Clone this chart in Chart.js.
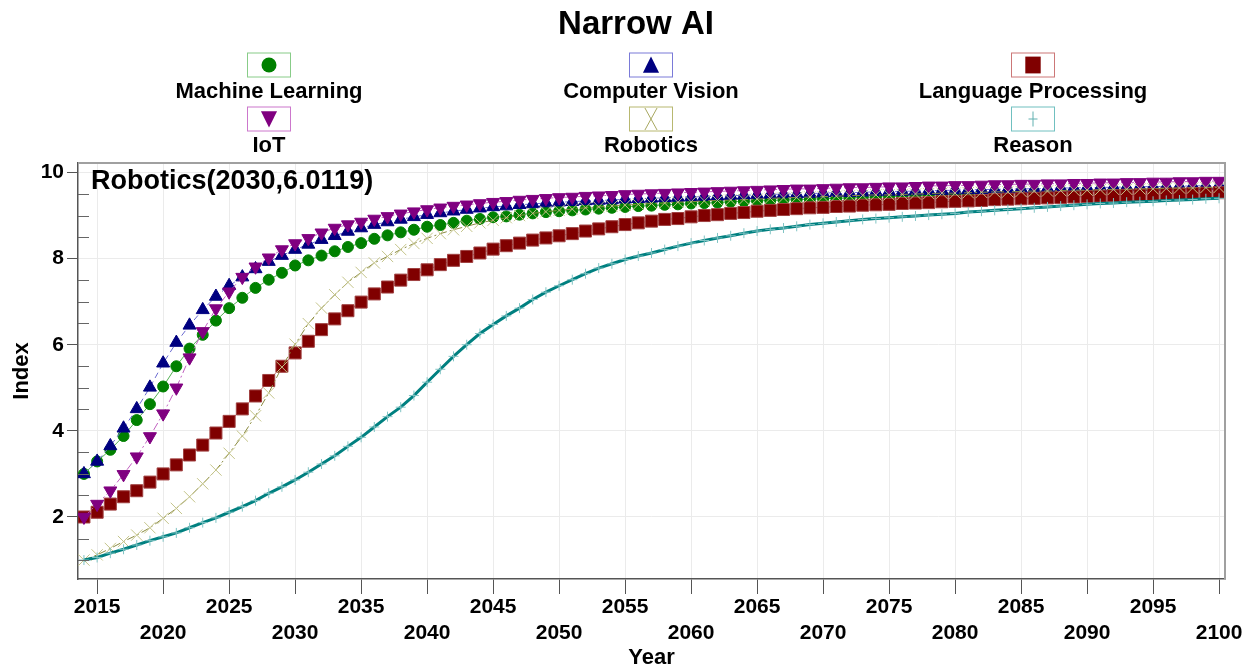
<!DOCTYPE html>
<html><head><meta charset="utf-8">
<script src="https://cdn.jsdelivr.net/npm/chart.js@4.4.1/dist/chart.umd.min.js"></script>
<style>html,body{margin:0;padding:0;background:#fff;}canvas{display:block;}</style>
</head><body>
<canvas id="c" width="1251" height="670"></canvas>
<script>
const chartTitle = 'Narrow AI';
const xTitle = 'Year';
const yTitle = 'Index';
const annotationText = 'Robotics(2030,6.0119)';

const years = [2014,2015,2016,2017,2018,2019,2020,2021,2022,2023,
2024,2025,2026,2027,2028,2029,2030,2031,2032,2033,
2034,2035,2036,2037,2038,2039,2040,2041,2042,2043,
2044,2045,2046,2047,2048,2049,2050,2051,2052,2053,
2054,2055,2056,2057,2058,2059,2060,2061,2062,2063,
2064,2065,2066,2067,2068,2069,2070,2071,2072,2073,
2074,2075,2076,2077,2078,2079,2080,2081,2082,2083,
2084,2085,2086,2087,2088,2089,2090,2091,2092,2093,
2094,2095,2096,2097,2098,2099,2100];

const machineLearning = [3.00,3.29,3.56,3.88,4.25,4.62,5.03,5.50,5.91,6.23,
6.56,6.85,7.09,7.32,7.51,7.67,7.84,7.96,8.07,8.17,
8.27,8.36,8.46,8.54,8.61,8.67,8.74,8.78,8.83,8.88,
8.92,8.96,8.98,9.02,9.05,9.08,9.10,9.12,9.14,9.16,
9.18,9.20,9.22,9.23,9.25,9.26,9.28,9.29,9.30,9.32,
9.33,9.34,9.35,9.36,9.37,9.38,9.39,9.40,9.41,9.42,
9.43,9.44,9.45,9.46,9.47,9.48,9.48,9.49,9.50,9.51,
9.52,9.52,9.53,9.54,9.54,9.55,9.56,9.56,9.57,9.58,
9.58,9.59,9.59,9.60,9.60,9.61,9.62];

const computerVision = [3.00,3.29,3.65,4.06,4.51,5.01,5.57,6.05,6.45,6.81,
7.12,7.37,7.57,7.76,7.93,8.07,8.21,8.33,8.44,8.53,
8.63,8.71,8.79,8.85,8.91,8.97,9.02,9.06,9.10,9.14,
9.17,9.20,9.22,9.25,9.27,9.29,9.31,9.32,9.34,9.35,
9.36,9.38,9.39,9.40,9.41,9.42,9.43,9.44,9.45,9.46,
9.47,9.48,9.49,9.50,9.50,9.51,9.52,9.53,9.53,9.54,
9.55,9.56,9.56,9.57,9.58,9.58,9.59,9.60,9.60,9.61,
9.61,9.62,9.62,9.63,9.64,9.64,9.65,9.65,9.66,9.66,
9.67,9.67,9.68,9.68,9.69,9.69,9.70];

const languageProcessing = [2.00,2.11,2.30,2.47,2.61,2.81,3.00,3.21,3.44,3.67,
3.95,4.22,4.51,4.81,5.17,5.50,5.81,6.08,6.35,6.60,
6.79,6.99,7.18,7.34,7.50,7.63,7.74,7.86,7.96,8.05,
8.13,8.22,8.30,8.36,8.43,8.48,8.53,8.58,8.64,8.69,
8.74,8.79,8.83,8.87,8.91,8.93,8.97,9.00,9.02,9.05,
9.07,9.10,9.12,9.14,9.16,9.18,9.19,9.21,9.22,9.24,
9.25,9.26,9.28,9.29,9.30,9.32,9.33,9.34,9.35,9.37,
9.38,9.39,9.40,9.41,9.42,9.43,9.44,9.45,9.46,9.47,
9.48,9.49,9.50,9.50,9.51,9.52,9.53];

const iot = [2.00,2.30,2.61,2.99,3.40,3.87,4.40,5.00,5.70,6.31,
6.84,7.23,7.57,7.81,8.02,8.21,8.35,8.47,8.60,8.71,
8.79,8.85,8.92,8.98,9.04,9.09,9.14,9.18,9.22,9.25,
9.28,9.31,9.33,9.36,9.38,9.40,9.42,9.43,9.45,9.46,
9.47,9.49,9.50,9.51,9.52,9.53,9.54,9.55,9.56,9.57,
9.58,9.59,9.60,9.61,9.62,9.62,9.63,9.64,9.65,9.65,
9.66,9.67,9.67,9.68,9.69,9.69,9.70,9.70,9.71,9.72,
9.72,9.73,9.73,9.74,9.74,9.75,9.75,9.76,9.76,9.77,
9.77,9.78,9.78,9.79,9.79,9.80,9.80];

const robotics = [1.00,1.12,1.27,1.43,1.58,1.75,1.97,2.20,2.47,2.77,
3.09,3.48,3.88,4.35,4.88,5.48,6.0119,6.49,6.85,7.16,
7.45,7.68,7.90,8.05,8.21,8.35,8.47,8.58,8.67,8.75,
8.83,8.89,8.95,9.00,9.05,9.09,9.12,9.15,9.18,9.20,
9.22,9.24,9.26,9.28,9.29,9.31,9.32,9.34,9.35,9.36,
9.37,9.38,9.40,9.41,9.42,9.43,9.44,9.45,9.46,9.47,
9.48,9.48,9.49,9.50,9.51,9.52,9.52,9.53,9.54,9.55,
9.55,9.56,9.57,9.57,9.58,9.59,9.59,9.60,9.61,9.61,
9.62,9.62,9.63,9.64,9.64,9.65,9.65];

const reason = [1.00,1.06,1.16,1.25,1.35,1.45,1.54,1.63,1.75,1.87,
1.98,2.11,2.24,2.38,2.55,2.70,2.86,3.04,3.23,3.42,
3.64,3.85,4.09,4.33,4.55,4.82,5.13,5.43,5.73,6.00,
6.26,6.47,6.67,6.85,7.05,7.22,7.37,7.51,7.65,7.78,
7.88,7.98,8.06,8.13,8.21,8.29,8.36,8.42,8.48,8.53,
8.59,8.64,8.68,8.71,8.75,8.79,8.82,8.85,8.88,8.91,
8.93,8.95,8.97,8.99,9.01,9.03,9.05,9.08,9.10,9.12,
9.14,9.16,9.18,9.20,9.22,9.24,9.26,9.28,9.29,9.31,
9.32,9.33,9.35,9.36,9.37,9.39,9.40];

const seriesNames = ['Machine Learning','Computer Vision','Language Processing','IoT','Robotics','Reason'];
const xTickYears = [2015,2020,2025,2030,2035,2040,2045,2050,2055,2060,2065,2070,2075,2080,2085,2090,2095,2100];
const yTickValues = [1,1.5,2,2.5,3,3.5,4,4.5,5,5.5,6,6.5,7,7.5,8,8.5,9,9.5,10];
const yTickLabels = [2,4,6,8,10];

const FONT = '"Liberation Sans", Arial, sans-serif';
const pts = arr => years.map((y, i) => ({x: y, y: arr[i]}));

const styles = [
  {data: machineLearning, line:'#55b055', fill:'#008000', stroke:'#008000', shape:'circle', r:5.5, dash:[], box:'#88cc88', width:1},
  {data: computerVision, line:'#6a6ad0', fill:'#000080', stroke:'#000080', shape:'triangle', r:7.5, dash:[6,4], box:'#7a7ad8', width:1},
  {data: languageProcessing, line:'#c07070', fill:'#800000', stroke:'#a04040', shape:'rect', r:8.5, dash:[], box:'#cc7777', width:1},
  {data: iot, line:'#c060c0', fill:'#800080', stroke:'#800080', shape:'triangle', rot:180, r:7.5, dash:[8,3,2,3], box:'#cc77cc', width:1},
  {data: robotics, line:'#8a8a40', fill:'rgba(0,0,0,0)', stroke:'#c4c48a', shape:'crossRot', r:8, dash:[8,3,2,3], box:'#b8b870', width:1},
  {data: reason, line:'#008080', fill:'rgba(0,0,0,0)', stroke:'#80c4c4', shape:'cross', r:5, dash:[], box:'#70c0c0', width:3}
];

const datasets = styles.map((s, i) => ({
  label: seriesNames[i],
  data: pts(s.data),
  borderColor: s.line,
  borderWidth: s.width,
  borderDash: s.dash,
  pointStyle: s.shape,
  pointRotation: s.rot || 0,
  pointRadius: s.r,
  pointBackgroundColor: s.fill,
  pointBorderColor: s.stroke,
  pointBorderWidth: 1,
  tension: 0,
  fill: false,
  order: 6 - i
}));

function drawMarker(ctx, shape, x, y, size, fill, stroke, rot) {
  ctx.save();
  ctx.translate(x, y);
  if (rot) ctx.rotate(rot * Math.PI / 180);
  ctx.beginPath();
  if (shape === 'circle') {
    ctx.arc(0, 0, size, 0, Math.PI * 2);
    ctx.fillStyle = fill; ctx.fill();
  } else if (shape === 'triangle') {
    ctx.moveTo(0, -size); ctx.lineTo(size * 0.95, size * 0.9); ctx.lineTo(-size * 0.95, size * 0.9); ctx.closePath();
    ctx.fillStyle = fill; ctx.fill();
  } else if (shape === 'rect') {
    ctx.rect(-size * 0.55, -size * 0.6, size * 1.1, size * 1.2);
    ctx.fillStyle = fill; ctx.fill();
  } else if (shape === 'crossRot') {
    ctx.moveTo(-size * 0.55, -size); ctx.lineTo(size * 0.55, size);
    ctx.moveTo(size * 0.55, -size); ctx.lineTo(-size * 0.55, size);
    ctx.strokeStyle = stroke; ctx.lineWidth = 1; ctx.stroke();
  } else if (shape === 'cross') {
    ctx.moveTo(0, -size); ctx.lineTo(0, size);
    ctx.moveTo(-size * 0.6, 0); ctx.lineTo(size * 0.6, 0);
    ctx.strokeStyle = stroke; ctx.lineWidth = 1; ctx.stroke();
  }
  ctx.restore();
}

const legendPos = [[269,65,92],[651,65,92],[1033,65,92],[269,119,146],[651,119,146],[1033,119,146]];
const legendMarker = [
  {c:'#008000', s:'#008000', size:7.5},
  {c:'#000080', s:'#000080', size:8.5},
  {c:'#800000', s:'#800000', size:14},
  {c:'#800080', s:'#800080', size:8.5},
  {c:'#a8a860', s:'#a8a860', size:11},
  {c:'#60b0b0', s:'#60b0b0', size:7.5}
];

const decor = {
  id: 'decor',
  afterDraw(chart) {
    const ctx = chart.ctx, a = chart.chartArea, ys = chart.scales.y;
    ctx.save();
    // plot frame (top/right)
    ctx.strokeStyle = '#a0a0a0'; ctx.lineWidth = 2;
    ctx.beginPath(); ctx.moveTo(a.left, a.top); ctx.lineTo(a.right, a.top); ctx.lineTo(a.right, a.bottom); ctx.stroke();
    // inward minor ticks on y axis
    ctx.strokeStyle = '#666'; ctx.lineWidth = 1.2;
    ctx.beginPath();
    yTickValues.forEach(v => {
      if (yTickLabels.indexOf(v) >= 0) return;
      const py = Math.round(ys.getPixelForValue(v)) + 0.5;
      ctx.moveTo(a.left, py); ctx.lineTo(a.left + 11, py);
    });
    ctx.stroke();
    // title
    ctx.fillStyle = '#000'; ctx.textAlign = 'center'; ctx.textBaseline = 'middle';
    ctx.font = 'bold 33px ' + FONT;
    ctx.fillText(chartTitle, 636, 25);
    // legend
    ctx.font = 'bold 22px ' + FONT;
    styles.forEach((s, i) => {
      const [cx, by, ly] = legendPos[i];
      ctx.fillStyle = '#fff';
      ctx.fillRect(cx - 22, by - 12.5, 44, 25);
      ctx.strokeStyle = s.box; ctx.lineWidth = 1;
      ctx.strokeRect(cx - 22 + 0.5, by - 12.5 + 0.5, 43, 24);
      const m = legendMarker[i];
      drawMarker(ctx, s.shape, cx, by, m.size, m.c, m.s, s.rot || 0);
      ctx.fillStyle = '#000';
      ctx.fillText(seriesNames[i], cx, ly);
    });
    // annotation
    ctx.textAlign = 'left';
    ctx.font = 'bold 27px ' + FONT;
    ctx.fillText(annotationText, 91, 182);
    // axis titles
    ctx.textAlign = 'center';
    ctx.font = 'bold 22px ' + FONT;
    ctx.fillText(xTitle, (a.left + a.right) / 2, 658);
    ctx.save();
    ctx.translate(22, (a.top + a.bottom) / 2);
    ctx.rotate(-Math.PI / 2);
    ctx.fillText(yTitle, 0, 0);
    ctx.restore();
    ctx.restore();
  }
};

new Chart(document.getElementById('c'), {
  type: 'line',
  data: { datasets },
  options: {
    responsive: false,
    animation: false,
    devicePixelRatio: 1,
    layout: { padding: { top: 163, left: 0, right: 26, bottom: 0 } },
    plugins: { legend: { display: false }, title: { display: false }, tooltip: { enabled: false } },
    scales: {
      x: {
        type: 'linear',
        min: 2013.55, max: 2100.45,
        afterBuildTicks: sc => { sc.ticks = xTickYears.map(v => ({ value: v })); },
        afterFit: sc => { sc.height = 91; },
        ticks: {
          autoSkip: false, maxRotation: 0, minRotation: 0, padding: 0,
          color: '#000',
          font: { family: FONT, size: 21, weight: 'bold', lineHeight: 1.24 },
          callback: v => (xTickYears.indexOf(v) % 2 === 0 ? String(v) : ['', String(v)])
        },
        grid: { color: '#ebebeb', lineWidth: 1, tickColor: '#555', tickLength: 15, drawTicks: true },
        border: { display: true, color: '#555', width: 1.5 }
      },
      y: {
        type: 'linear',
        min: 0.56, max: 10.22,
        afterBuildTicks: sc => { sc.ticks = yTickValues.map(v => ({ value: v })); },
        afterFit: sc => { sc.width = 78; },
        ticks: {
          padding: 3,
          color: '#000',
          font: { family: FONT, size: 21, weight: 'bold' },
          callback: v => (yTickLabels.indexOf(v) >= 0 ? String(v) : '')
        },
        grid: {
          color: c => (c.tick && yTickLabels.indexOf(c.tick.value) >= 0 ? '#ebebeb' : 'rgba(0,0,0,0)'),
          tickColor: c => (c.tick && yTickLabels.indexOf(c.tick.value) >= 0 ? '#555' : 'rgba(0,0,0,0)'),
          tickLength: 11, drawTicks: true, lineWidth: 1
        },
        border: { display: true, color: '#555', width: 1.5 }
      }
    }
  },
  plugins: [decor]
});
</script>
</body></html>
